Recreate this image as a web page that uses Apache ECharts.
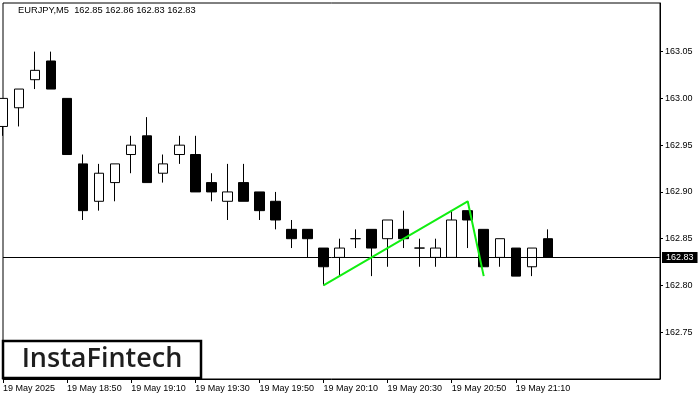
<!DOCTYPE html>
<html>
<head>
<meta charset="utf-8">
<script src="https://cdn.jsdelivr.net/npm/echarts@6/dist/echarts.min.js"></script>
<style>
html,body{margin:0;padding:0;background:#fff;}
#chart{width:700px;height:400px;}
</style>
</head>
<body>
<div id="chart"></div>
<script>
// ---- data ----
const titleText = 'EURJPY,M5  162.85 162.86 162.83 162.83';
const categories = ['18:30','18:35','18:40','18:45','18:50','18:55','19:00','19:05','19:10','19:15','19:20','19:25','19:30','19:35','19:40','19:45','19:50','19:55','20:00','20:05','20:10','20:15','20:20','20:25','20:30','20:35','20:40','20:45','20:50','20:55','21:00','21:05','21:10','21:15','21:20','21:25','21:30','21:35','21:40','21:45','21:50','21:55'];
const tickLabels = ['19 May 2025','19 May 18:50','19 May 19:10','19 May 19:30','19 May 19:50','19 May 20:10','19 May 20:30','19 May 20:50','19 May 21:10'];
const opens  = [162.97,162.99,163.02,163.04,163.00,162.93,162.89,162.91,162.94,162.96,162.92,162.94,162.94,162.91,162.89,162.91,162.90,162.89,162.86,162.86,162.84,162.83,162.85,162.86,162.85,162.86,162.84,162.83,162.83,162.88,162.86,162.83,162.84,162.82,162.85];
const closes = [163.00,163.01,163.03,163.01,162.94,162.88,162.92,162.93,162.95,162.91,162.93,162.95,162.90,162.90,162.90,162.89,162.88,162.87,162.85,162.85,162.82,162.84,162.85,162.84,162.87,162.85,162.84,162.84,162.87,162.87,162.82,162.85,162.81,162.84,162.83];
const lows   = [162.96,162.97,163.01,163.01,162.94,162.87,162.88,162.89,162.92,162.91,162.91,162.93,162.90,162.89,162.87,162.89,162.87,162.86,162.84,162.83,162.80,162.81,162.84,162.81,162.82,162.84,162.82,162.82,162.83,162.84,162.82,162.82,162.81,162.81,162.83];
const highs  = [163.00,163.01,163.05,163.05,163.00,162.94,162.93,162.93,162.96,162.98,162.94,162.96,162.96,162.92,162.93,162.93,162.90,162.90,162.87,162.86,162.84,162.85,162.86,162.86,162.87,162.88,162.85,162.85,162.88,162.88,162.86,162.85,162.84,162.84,162.86];
const patternIdx = [20, 29, 30];
const patternVal = [162.80, 162.89, 162.81];
const lastPrice = 162.83;
const yTicks = [162.75,162.80,162.85,162.90,162.95,163.00,163.05];
const yMin = 162.700, yMax = 163.102;

// ---- build ----
const ohlc = opens.map((o, i) => [o, closes[i], lows[i], highs[i]]);
const patternData = categories.map(() => null);
patternIdx.forEach((ix, k) => { patternData[ix] = patternVal[k]; });

const chart = echarts.init(document.getElementById('chart'), null, {renderer: 'canvas'});
const font = '"Liberation Sans", Arial, sans-serif';
const showTick = (idx) => idx % 4 === 0 && idx / 4 < tickLabels.length;

chart.setOption({
  animation: false,
  backgroundColor: '#fff',
  grid: {left: 2, right: 40, top: 3, bottom: 21, show: true, borderColor: '#000', borderWidth: 1, backgroundColor: 'transparent'},
  xAxis: {
    type: 'category',
    data: categories,
    boundaryGap: false,
    axisLine: {show: true, lineStyle: {color: '#000', width: 1}},
    axisTick: {show: true, interval: showTick, length: 4, lineStyle: {color: '#000'}},
    axisLabel: {
      show: true, interval: showTick, align: 'left', margin: 5,
      fontFamily: font, fontSize: 9, color: '#000',
      formatter: (v, idx) => (idx % 4 === 0 && tickLabels[idx / 4]) ? tickLabels[idx / 4] : ''
    },
    splitLine: {show: false}
  },
  yAxis: {
    type: 'value',
    position: 'right',
    min: yMin, max: yMax,
    axisLine: {show: true, lineStyle: {color: '#000'}},
    axisTick: {show: true, length: 3, customValues: yTicks, lineStyle: {color: '#000'}},
    axisLabel: {show: true, customValues: yTicks, margin: 5, fontFamily: font, fontSize: 9, color: '#000',
      formatter: (v) => v.toFixed(2)},
    splitLine: {show: false}
  },
  graphic: [
    {type: 'text', left: 18, top: 6, style: {text: titleText, font: '9.3px ' + font, fill: '#000'}},
    {type: 'rect', shape: {x: 3, y: 341, width: 198, height: 37}, style: {fill: '#fff', stroke: '#000', lineWidth: 2.5}, z: 100},
    {type: 'text', x: 102, y: 359, style: {text: 'InstaFintech', font: '600 27px "Open Sans", sans-serif', fill: '#1e1e1e', textAlign: 'center', textVerticalAlign: 'middle'}, z: 101}
  ],
  series: [
    {
      type: 'candlestick',
      data: ohlc,
      barWidth: 10,
      clip: true,
      itemStyle: {color: '#fff', color0: '#000', borderColor: '#000', borderColor0: '#000', borderWidth: 1},
      markLine: {
        silent: true, symbol: 'none', animation: false,
        lineStyle: {color: '#000', width: 1, type: 'solid'},
        label: {show: true, position: 'end', distance: 2, formatter: lastPrice.toFixed(2),
          backgroundColor: '#000', color: '#fff', fontFamily: font, fontSize: 9, padding: [1, 4, 1, 4]},
        data: [{yAxis: lastPrice}]
      }
    },
    {
      type: 'line',
      data: patternData,
      connectNulls: true,
      symbol: 'none',
      lineStyle: {color: '#11ee11', width: 2},
      z: 5
    }
  ]
});
</script>
</body>
</html>
